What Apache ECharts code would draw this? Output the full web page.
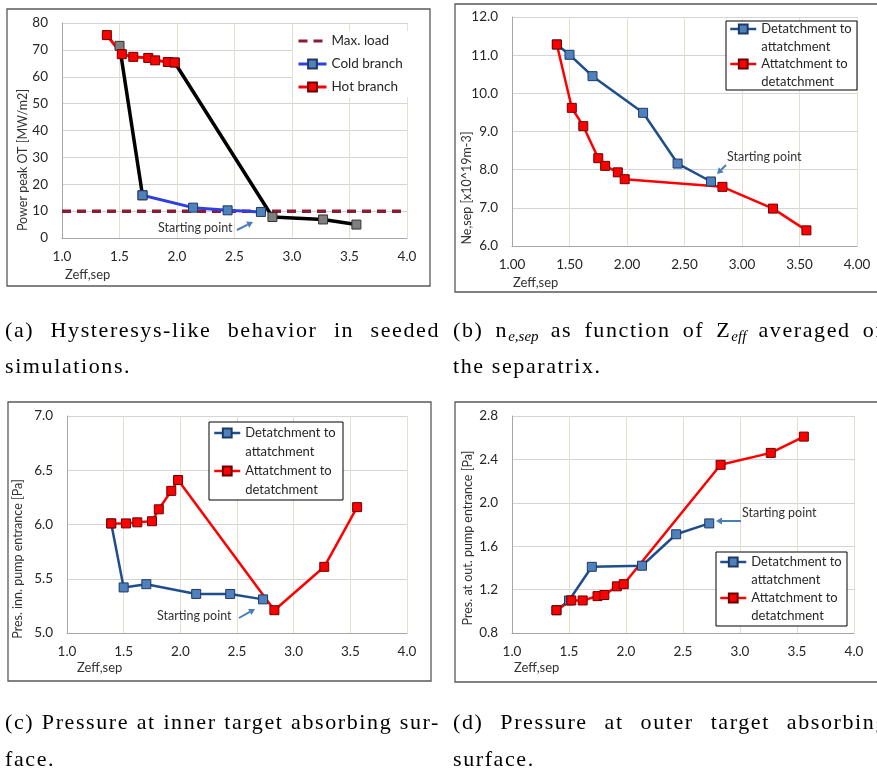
<!DOCTYPE html>
<html>
<head>
<meta charset="utf-8">
<title>Zeff,sep scan</title>
<script src="https://cdn.jsdelivr.net/npm/echarts@6/dist/echarts.min.js"></script>
<style>
  html, body { margin: 0; padding: 0; background: #fff; overflow: hidden; }
  #main { position: absolute; left: 0; top: 0; width: 877px; height: 780px; }
  .cap { position: absolute; width: 435px; font-family: "Liberation Serif", serif; font-size: 22px;
         line-height: 22px; color: #000; white-space: nowrap; letter-spacing: 1.6px; }
  .just { text-align: justify; text-align-last: justify; }
  .cap sub { font-size: 15px; font-style: italic; vertical-align: -4px; line-height: 0; letter-spacing: 0; }
</style>
</head>
<body>
<div id="main"></div>

<!-- figure captions -->
<div class="cap just" style="left:5px;top:319px">(a) Hysteresys-like behavior in seeded</div>
<div class="cap" style="left:5px;top:355px">simulations.</div>
<div class="cap just" style="left:453px;top:319px">(b) n<sub>e,sep</sub> as function of Z<sub>eff</sub> averaged on</div>
<div class="cap" style="left:453px;top:355px">the separatrix.</div>
<div class="cap just" style="left:5px;top:711px">(c) Pressure at inner target absorbing sur-</div>
<div class="cap" style="left:5px;top:748px">face.</div>
<div class="cap just" style="left:453px;top:711px">(d) Pressure at outer target absorbing</div>
<div class="cap" style="left:453px;top:748px">surface.</div>

<script>
  // Zeff,sep of the simulation points, in scan order
  const zeffAttToDet = [1.39, 1.52, 1.62, 1.75, 1.81, 1.92, 1.98, 2.83, 3.27, 3.56]
  const zeffDetToAtt = [2.73, 2.44, 2.14, 1.70, 1.50, 1.39]

  // (a) power peak OT [MW/m2]
  const powerAttToDet = [75.5, 68.4, 67.4, 67.0, 66.1, 65.5, 65.3, 7.8, 6.9, 5.0]
  const powerDetToAtt = [9.7, 10.3, 11.3, 15.9, 71.5, 75.5]
  const maxLoadZeff = [1.0, 4.0]
  const maxLoad = [10, 10]

  // (b) ne,sep [x10^19 m-3]
  const neAttToDet = [11.28, 9.62, 9.14, 8.30, 8.10, 7.93, 7.75, 7.55, 6.98, 6.41]
  const neDetToAtt = [7.69, 8.16, 9.49, 10.45, 11.01, 11.28]

  // (c) pressure at inner pump entrance [Pa]
  const pInnAttToDet = [6.01, 6.01, 6.02, 6.03, 6.14, 6.31, 6.41, 5.21, 5.61, 6.16]
  const pInnDetToAtt = [5.31, 5.36, 5.36, 5.45, 5.42, 6.01]

  // (d) pressure at outer pump entrance [Pa]
  const pOutAttToDet = [1.01, 1.10, 1.10, 1.14, 1.15, 1.23, 1.25, 2.35, 2.46, 2.61]
  const pOutDetToAtt = [1.81, 1.71, 1.42, 1.41, 1.10, 1.01]

  // axis ranges: [min, max, interval]
  const xRange = [1, 4, 0.5]
  const yRangeA = [0, 80, 10]
  const yRangeB = [6, 12, 1]
  const yRangeC = [5, 7, 0.5]
  const yRangeD = [0.8, 2.8, 0.4]

  const DET = 'Detatchment to\nattatchment'
  const ATT = 'Attatchment to\ndetatchment'

  const zip = (xs, ys) => xs.map((x, i) => [x, ys[i]])

  const FONT = 'Lato'
  const blueMarker = { color: '#4f81bd', borderColor: '#1f3864', borderWidth: 1 }
  const redMarker = { color: '#ff0000', borderColor: '#6b0000', borderWidth: 1 }
  const grayMarker = { color: '#7f7f7f', borderColor: '#333', borderWidth: 1 }

  function xAxisFor (grid, decimals) {
    return {
      type: 'value', gridIndex: grid,
      min: xRange[0], max: xRange[1], interval: xRange[2],
      axisLine: { show: true, onZero: false, lineStyle: { color: '#a6a6a6' } },
      axisTick: { show: false },
      axisLabel: { margin: 12, color: '#262626', fontFamily: FONT, fontSize: 13.5,
        formatter: v => v.toFixed(decimals) },
      splitLine: { show: true, lineStyle: { color: '#e6dece' } }
    }
  }

  function yAxisFor (grid, range, decimals) {
    return {
      type: 'value', gridIndex: grid,
      min: range[0], max: range[1], interval: range[2],
      axisLine: { show: true, onZero: false, lineStyle: { color: '#a6a6a6' } },
      axisTick: { show: false },
      axisLabel: { margin: 14, color: '#262626', fontFamily: FONT, fontSize: 13.5,
        formatter: v => v.toFixed(decimals) },
      splitLine: { show: true, lineStyle: { color: '#d4d4d4' } }
    }
  }

  function lineSeries (name, grid, data, color, width, marker) {
    return {
      name: name, type: 'line', xAxisIndex: grid, yAxisIndex: grid,
      data: data, symbol: 'rect', symbolSize: 9,
      lineStyle: { color: color, width: width },
      itemStyle: marker,
      emphasis: { disabled: true }
    }
  }

  // two-line legend entries: an empty first line puts the icon on the first text line
  function twoLineLegend (left, firstLine, lineH) {
    return {
      data: [DET, ATT], orient: 'vertical', left: left, top: firstLine - 1.5 * lineH,
      padding: 0, itemWidth: 26, itemHeight: 11, itemGap: -lineH, itemTextGap: 4,
      formatter: name => '\n' + name,
      lineStyle: { width: 2.5 },
      textStyle: { fontFamily: FONT, fontSize: 13, color: '#262626', lineHeight: lineH }
    }
  }

  function frame (x, y, w, h) {
    return { type: 'rect', z: 10, silent: true, shape: { x: x, y: y, width: w, height: h },
      style: { fill: 'none', stroke: '#595959', lineWidth: 1.3 } }
  }

  function legendBox (x, y, w, h) {
    return { type: 'rect', z: 3, silent: true, shape: { x: x, y: y, width: w, height: h },
      style: { fill: '#fff', stroke: '#000', lineWidth: 1 } }
  }

  function label (text, x, y, size, rotate) {
    return { type: 'text', z: 10, silent: true, x: x, y: y, rotation: rotate ? Math.PI / 2 : 0,
      style: { text: text, fill: '#333', font: size + 'px ' + FONT,
        align: rotate ? 'center' : 'left', verticalAlign: 'middle' } }
  }

  function arrow (x1, y1, x2, y2) {
    const a = Math.atan2(y2 - y1, x2 - x1)
    const len = 6, half = 3.5
    const bx = x2 - len * Math.cos(a), by = y2 - len * Math.sin(a)
    return [
      { type: 'line', z: 10, silent: true, shape: { x1: x1, y1: y1, x2: bx, y2: by },
        style: { stroke: '#4a7ebb', lineWidth: 2 } },
      { type: 'polygon', z: 10, silent: true,
        shape: { points: [[x2, y2],
          [bx + half * Math.sin(a), by - half * Math.cos(a)],
          [bx - half * Math.sin(a), by + half * Math.cos(a)]] },
        style: { fill: '#4a7ebb' } }
    ]
  }

  const myChart = echarts.init(document.getElementById('main'), null, { renderer: 'canvas' })

  const option = {
    animation: false,
    backgroundColor: '#fff',
    grid: [
      { left: 62, top: 23, width: 345, height: 215 },
      { left: 512, top: 17, width: 345, height: 229 },
      { left: 67, top: 416, width: 340, height: 217 },
      { left: 512, top: 416, width: 342, height: 217 }
    ],
    xAxis: [xAxisFor(0, 1), xAxisFor(1, 2), xAxisFor(2, 1), xAxisFor(3, 1)],
    yAxis: [yAxisFor(0, yRangeA, 0), yAxisFor(1, yRangeB, 1), yAxisFor(2, yRangeC, 1), yAxisFor(3, yRangeD, 1)],
    legend: [
      {
        data: ['Max. load', 'Cold branch', 'Hot branch'], orient: 'vertical',
        left: 293, top: 31, padding: [3, 6, 3, 4], backgroundColor: '#fff',
        itemWidth: 28, itemHeight: 11, itemGap: 9,
        lineStyle: { width: 3 },
        textStyle: { fontFamily: FONT, fontSize: 13.5, color: '#262626', lineHeight: 14 }
      },
      twoLineLegend(729, 29, 17.5),
      twoLineLegend(213, 433, 19),
      twoLineLegend(719, 562, 18)
    ],
    series: [
      // (a)
      {
        name: 'Max. load', type: 'line', xAxisIndex: 0, yAxisIndex: 0,
        data: zip(maxLoadZeff, maxLoad), symbol: 'rect', showSymbol: false,
        itemStyle: { color: 'rgba(0,0,0,0)' },
        lineStyle: { color: '#8c1c35', width: 3.5, type: [9, 6] },
        emphasis: { disabled: true }
      },
      lineSeries('det jump', 0, zip(zeffDetToAtt.slice(3, 5), powerDetToAtt.slice(3, 5)), '#000', 3.5, grayMarker),
      lineSeries('att jump', 0, zip(zeffAttToDet.slice(6), powerAttToDet.slice(6)), '#000', 3.5, grayMarker),
      lineSeries('Cold branch', 0, zip(zeffDetToAtt.slice(0, 4), powerDetToAtt.slice(0, 4)), '#2f3fe0', 3, blueMarker),
      lineSeries('Hot branch', 0, zip(zeffAttToDet.slice(0, 7), powerAttToDet.slice(0, 7)), '#ff0000', 3, redMarker),
      // (b)
      lineSeries(DET, 1, zip(zeffDetToAtt, neDetToAtt), '#1f4e8c', 2.5, blueMarker),
      lineSeries(ATT, 1, zip(zeffAttToDet, neAttToDet), '#ff0000', 2.5, redMarker),
      // (c)
      lineSeries(DET, 2, zip(zeffDetToAtt, pInnDetToAtt), '#1f4e8c', 2.5, blueMarker),
      lineSeries(ATT, 2, zip(zeffAttToDet, pInnAttToDet), '#ff0000', 2.5, redMarker),
      // (d)
      lineSeries(DET, 3, zip(zeffDetToAtt, pOutDetToAtt), '#1f4e8c', 2.5, blueMarker),
      lineSeries(ATT, 3, zip(zeffAttToDet, pOutAttToDet), '#ff0000', 2.5, redMarker)
    ],
    graphic: {
      elements: [
        frame(7, 9, 423, 277),
        frame(455, 4, 430, 288),
        frame(8, 402, 423, 279),
        frame(455, 402, 430, 280),
        legendBox(726, 21, 131, 69),
        legendBox(209, 422, 134, 78),
        legendBox(716, 552, 131, 74),
        // axis titles
        label('Power peak OT [MW/m2]', 23, 160, 12.5, true),
        label('Ne,sep [x10^19m-3]', 467, 188, 12.5, true),
        label('Pres. inn. pump entrance [Pa]', 18, 559, 12.5, true),
        label('Pres. at out. pump entrance [Pa]', 468, 538, 12.5, true),
        label('Zeff,sep', 65, 275, 13),
        label('Zeff,sep', 513, 283, 13),
        label('Zeff,sep', 77, 668, 13),
        label('Zeff,sep', 514, 668, 13),
        // starting point notes
        label('Starting point', 158, 228, 12.5),
        label('Starting point', 727, 157, 12.5),
        label('Starting point', 157, 616, 12.5),
        label('Starting point', 742, 513, 12.5),
        ...arrow(237, 230, 253, 222),
        ...arrow(726, 165, 717, 174),
        ...arrow(239, 618, 255, 609),
        ...arrow(741, 521, 716, 521)
      ]
    }
  }

  myChart.setOption(option)
</script>
</body>
</html>
